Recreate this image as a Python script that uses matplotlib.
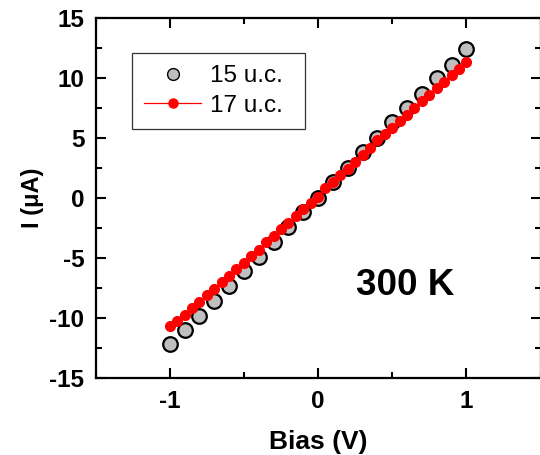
import matplotlib
matplotlib.use('Agg')
import matplotlib.pyplot as plt
from matplotlib.lines import Line2D
from matplotlib.ticker import MultipleLocator

plt.rcParams['font.family'] = ['Liberation Sans', 'DejaVu Sans']
plt.rcParams['axes.unicode_minus'] = False

# 15 u.c. sample
bias_15 = [-1.0, -0.9, -0.8, -0.7, -0.6, -0.5, -0.4, -0.3, -0.2, -0.1, 0.0,
           0.1, 0.2, 0.3, 0.4, 0.5, 0.6, 0.7, 0.8, 0.9, 1.0]
current_15 = [-12.2, -11.0, -9.8, -8.6, -7.3, -6.1, -4.9, -3.7, -2.4, -1.2, 0.0,
              1.3, 2.5, 3.8, 5.0, 6.3, 7.5, 8.7, 10.0, 11.1, 12.4]

# 17 u.c. sample
bias_17 = [-1.0, -0.95, -0.9, -0.85, -0.8, -0.75, -0.7, -0.65, -0.6, -0.55, -0.5,
           -0.45, -0.4, -0.35, -0.3, -0.25, -0.2, -0.15, -0.1, -0.05, 0.0,
           0.05, 0.1, 0.15, 0.2, 0.25, 0.3, 0.35, 0.4, 0.45, 0.5,
           0.55, 0.6, 0.65, 0.7, 0.75, 0.8, 0.85, 0.9, 0.95, 1.0]
current_17 = [-10.7, -10.25, -9.75, -9.2, -8.65, -8.1, -7.6, -7.0, -6.5, -5.9, -5.4,
              -4.85, -4.3, -3.7, -3.2, -2.6, -2.05, -1.5, -0.95, -0.4, 0.1,
              0.8, 1.35, 1.9, 2.45, 3.0, 3.6, 4.2, 4.8, 5.3, 5.85,
              6.4, 6.95, 7.5, 8.05, 8.6, 9.2, 9.7, 10.25, 10.75, 11.3]

fig = plt.figure(figsize=(5.4, 4.55), dpi=100)
ax = fig.add_axes([95.5 / 540, 77 / 455, 445 / 540, 360 / 455])

ax.plot(bias_15, current_15, linestyle='none', marker='o', markersize=10.5,
        markerfacecolor='#bfbfbf', markeredgecolor='black', markeredgewidth=1.6)
ax.plot(bias_17, current_17, color='red', linewidth=0.8, marker='o',
        markersize=7, markerfacecolor='red', markeredgecolor='red')

ax.set_xlim(-1.5, 1.5)
ax.set_ylim(-15, 15)
ax.xaxis.set_major_locator(MultipleLocator(1))
ax.xaxis.set_minor_locator(MultipleLocator(0.5))
ax.yaxis.set_major_locator(MultipleLocator(5))
ax.yaxis.set_minor_locator(MultipleLocator(2.5))
ax.tick_params(which='both', direction='in', top=True, right=True, width=1.5)
ax.tick_params(which='major', length=7, labelsize=17.5)
ax.tick_params(axis='x', which='major', pad=9)
ax.tick_params(axis='y', which='major', pad=8)
ax.tick_params(which='minor', length=4)
for lbl in ax.get_xticklabels() + ax.get_yticklabels():
    lbl.set_fontweight('bold')
for sp in ax.spines.values():
    sp.set_linewidth(1.6)

ax.set_xlabel('Bias (V)', fontsize=19, fontweight='bold', labelpad=12)
ax.set_ylabel('I (μA)', fontsize=17, fontweight='bold', labelpad=4)

ax.text(0.59, -7.3, '300 K', fontsize=26.5, fontweight='bold',
        ha='center', va='center')

handles = [
    Line2D([], [], linestyle='none', marker='o', markersize=8.5,
           markerfacecolor='#bfbfbf', markeredgecolor='black', markeredgewidth=1.0),
    Line2D([], [], color='red', linewidth=0.9, marker='o', markersize=6.5,
           markerfacecolor='red', markeredgecolor='red'),
]
leg = ax.legend(handles, ['15 u.c.', '17 u.c.'], loc='upper left',
                bbox_to_anchor=(132 / 540, 1 - 53 / 455, 173 / 540, 0),
                bbox_transform=fig.transFigure, mode='expand',
                borderaxespad=0, fontsize=17.5, frameon=True, fancybox=False,
                edgecolor='black', handlelength=2.35, handletextpad=0.36,
                labelspacing=0.32, borderpad=0.5)
leg.get_frame().set_linewidth(0.9)

fig.savefig('out.png', dpi=100)
